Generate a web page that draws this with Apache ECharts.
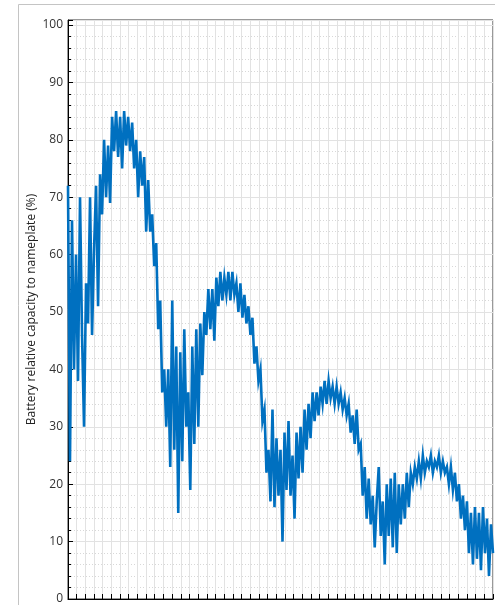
<!DOCTYPE html>
<html>
<head>
<meta charset="utf-8">
<script src="https://cdn.jsdelivr.net/npm/echarts@6/dist/echarts.min.js"></script>
<style>
html,body{margin:0;padding:0;background:#fff;}
#c{width:495px;height:605px;}
</style>
</head>
<body>
<div id="c"></div>
<script>
// Battery relative capacity to nameplate (%), samples left to right
const capacity = [
72,24,66,40,60,38,70,46,30,55,48,70,46,61,72,51,74,67,80,70,
79,69,84,78,85,77,84,75,85,79,84,78,83,75,80,70,78,72,77,64,
73,64,67,58,62,47,52,36,40,30,40,23,52,26,44,15,43,24,47,30,
36,19,44,27,47,30,48,39,50,46,54,47,54,45,56,51,57,52,56,53,
57,52,57,53,55,50,55,49,53,48,51,46,49,41,44,38,40,31,33,22,
26,17,33,16,28,18,26,10,29,19,31,18,25,14,29,21,30,22,33,26,
34,28,36,31,36,32,37,34,38,34,38,35,37,34,37,34,36,33,35,32,
34,29,32,27,33,26,27,18,23,14,21,13,18,9,17,23,11,17,6,20,
11,21,9,22,8,20,13,20,14,22,16,22,20,23,21,24,21,25,22,24,
23,25,22,24,23,25,22,24,22,23,20,23,19,22,17,20,14,18,12,17,
8,15,6,16,7,15,5,16,8,14,4,13,8
];
const sampleIndex = capacity.map((_, i) => i);
const yTicks = [0,10,20,30,40,50,60,70,80,90,100];
const yName = 'Battery relative capacity to nameplate (%)';

const chart = echarts.init(document.getElementById('c'), null, {renderer:'canvas'});
chart.setOption({
  animation: false,
  backgroundColor: '#fff',
  graphic: [{
    type: 'rect', silent: true, z: 0,
    shape: {x: 18.5, y: 4.5, width: 520, height: 700},
    style: {fill: 'none', stroke: '#c4c4c4', lineWidth: 1}
  }],
  grid: {left: 68, right: 2, top: 20, bottom: 5, show: true, borderColor: '#333', borderWidth: 1, backgroundColor: 'transparent'},
  xAxis: [{
    type: 'value', min: 0, max: 49, interval: 1,
    axisLine: {show: true, onZero: false, lineStyle: {color: '#000', width: 1}},
    axisTick: {show: true, inside: true, length: 5, lineStyle: {color: '#000'}},
    axisLabel: {show: false},
    splitLine: {show: true, lineStyle: {color: '#e2e2e2', width: 1}}
  }, {
    type: 'category', data: sampleIndex, boundaryGap: false, show: false
  }],
  yAxis: {
    type: 'value', min: 0, max: 100.87, interval: 10,
    name: yName, nameLocation: 'middle', nameGap: 30, nameMoveOverlap: false,
    nameTextStyle: {fontFamily: 'Open Sans', fontSize: 12, color: '#222'},
    axisLine: {show: true, lineStyle: {color: '#000', width: 1}},
    axisTick: {show: true, inside: true, length: 5, lineStyle: {color: '#000'}},
    minorTick: {show: true, splitNumber: 5, length: 3, lineStyle: {color: '#000'}},
    axisLabel: {
      fontFamily: 'Open Sans', fontSize: 12, color: '#333', margin: 5,
      formatter: v => (yTicks.indexOf(Math.round(v)) >= 0 && Math.abs(v - Math.round(v)) < 1e-6) ? String(Math.round(v)) : ''
    },
    splitLine: {show: true, lineStyle: {color: '#e2e2e2', width: 1}},
    minorSplitLine: {show: true, lineStyle: {color: '#d8d8d8', width: 1, type: [1, 2]}}
  },
  series: [{
    type: 'line', xAxisIndex: 1, data: capacity,
    showSymbol: false, symbol: 'none',
    lineStyle: {color: '#0070C0', width: 2.6, join: 'miter'},
    z: 3
  }]
});
</script>
</body>
</html>
